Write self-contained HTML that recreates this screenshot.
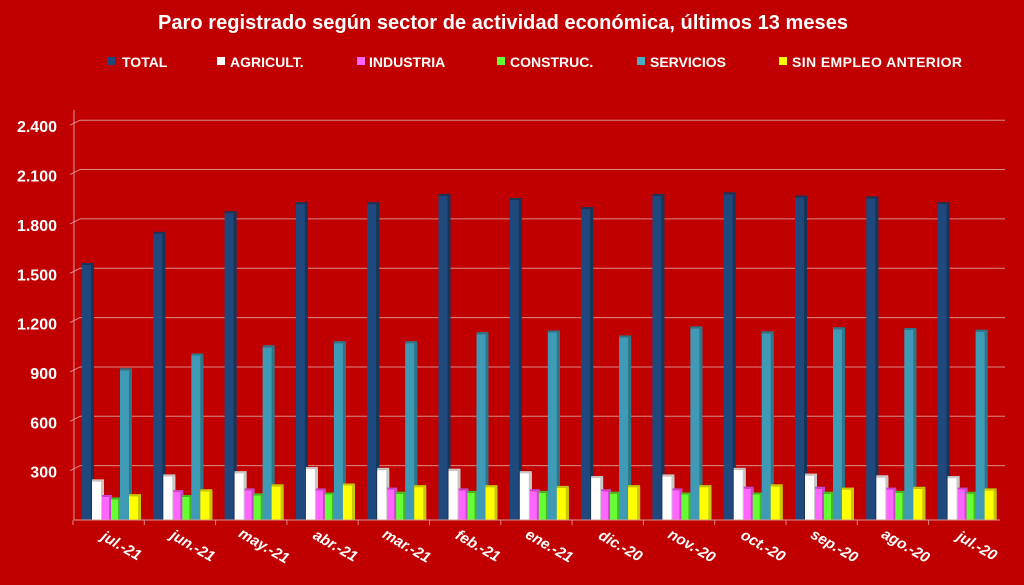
<!DOCTYPE html>
<html><head><meta charset="utf-8"><style>
html,body{margin:0;padding:0;background:#C00000;}
svg{display:block;font-family:"Liberation Sans",sans-serif;}
</style></head><body>
<svg width="1024" height="585" viewBox="0 0 1024 585" xmlns="http://www.w3.org/2000/svg">
<rect width="1024" height="585" fill="#C00000"/>
<text x="503" y="29" fill="#fff" font-size="20" font-weight="bold" text-anchor="middle" textLength="690">Paro registrado según sector de actividad económica, últimos 13 meses</text>
<g font-size="14" font-weight="bold" fill="#fff">
<rect x="107" y="57" width="8" height="8" fill="#1F497D"/><text x="122" y="67">TOTAL</text>
<rect x="217" y="57" width="8" height="8" fill="#fff"/><text x="230" y="67">AGRICULT.</text>
<rect x="357" y="57" width="8" height="8" fill="#FF66FF"/><text x="369" y="67">INDUSTRIA</text>
<rect x="497" y="57" width="8" height="8" fill="#66FF33"/><text x="510" y="67">CONSTRUC.</text>
<rect x="637" y="57" width="8" height="8" fill="#4BACC6"/><text x="650" y="67">SERVICIOS</text>
<rect x="779" y="57" width="8" height="8" fill="#FFFF00"/><text x="792" y="67" textLength="170">SIN EMPLEO ANTERIOR</text>
</g>
<g id="grid" stroke="#d88" stroke-width="1"></g>
<g id="bars"></g>
<g id="labels" font-size="16" font-weight="bold" fill="#fff"></g>
<line x1="74" y1="110" x2="74" y2="520" stroke="#d99" />
<line x1="74" y1="520" x2="1000" y2="520" stroke="#d99" />
<script>
const ns="http://www.w3.org/2000/svg";
function el(p,t,a,txt){const e=document.createElementNS(ns,t);for(const k in a)e.setAttribute(k,a[k]);if(txt)e.textContent=txt;document.getElementById(p).appendChild(e);}
const y0=520,k=0.1645;
const yl=["0","300","600","900","1.200","1.500","1.800","2.100","2.400"];
for(let i=1;i<=8;i++){const y=y0-i*300*k;el("grid","line",{x1:80,y1:y-5,x2:1005,y2:y-5});el("grid","line",{x1:70,y1:y,x2:80,y2:y-5});el("labels","text",{x:57,y:y+7,"text-anchor":"end"},yl[i]);}
const d=[[1550,235,140,125,910,145],[1740,265,170,140,1000,175],[1865,285,180,150,1050,205],[1920,310,180,155,1075,210],[1920,305,185,160,1075,200],[1970,300,180,165,1130,200],[1945,285,175,165,1140,195],[1890,255,175,160,1110,200],[1970,265,180,155,1165,200],[1980,305,190,155,1135,205],[1960,270,190,160,1160,185],[1955,260,185,165,1155,190],[1920,255,185,160,1145,180]];
const off=[9,19,29,38,47,56],w=[12,12,10,10,12,12];
const col=["#1F497D","#ffffff","#FF66FF","#66FF33","#3F9BB5","#FFFF00"];
const sh=["#163558","#c8c8c8","#cc44cc","#44bb22","#2d7689","#c8c800"];
const cats=["jul.-21","jun.-21","may.-21","abr.-21","mar.-21","feb.-21","ene.-21","dic.-20","nov.-20","oct.-20","sep.-20","ago.-20","jul.-20"];
for(let g=0;g<13;g++){const gx=73+71.3*g;
el("grid","line",{x1:gx,y1:520,x2:gx,y2:525});
for(let s=0;s<6;s++){const h=d[g][s]*k,x=gx+off[s];
el("bars","rect",{x:x,y:y0-h,width:w[s],height:h,fill:col[s]});
el("bars","rect",{x:x+w[s]-3,y:y0-h,width:3,height:h,fill:sh[s]});
el("bars","rect",{x:x,y:y0-h-2,width:w[s],height:2,fill:sh[s]});}
const cx=gx+46,cy=550;
el("labels","text",{x:cx,y:cy,"text-anchor":"middle","font-style":"italic","font-size":"15",transform:`rotate(30 ${cx} ${cy})`},cats[g]);}
</script>
</svg>
</body></html>
